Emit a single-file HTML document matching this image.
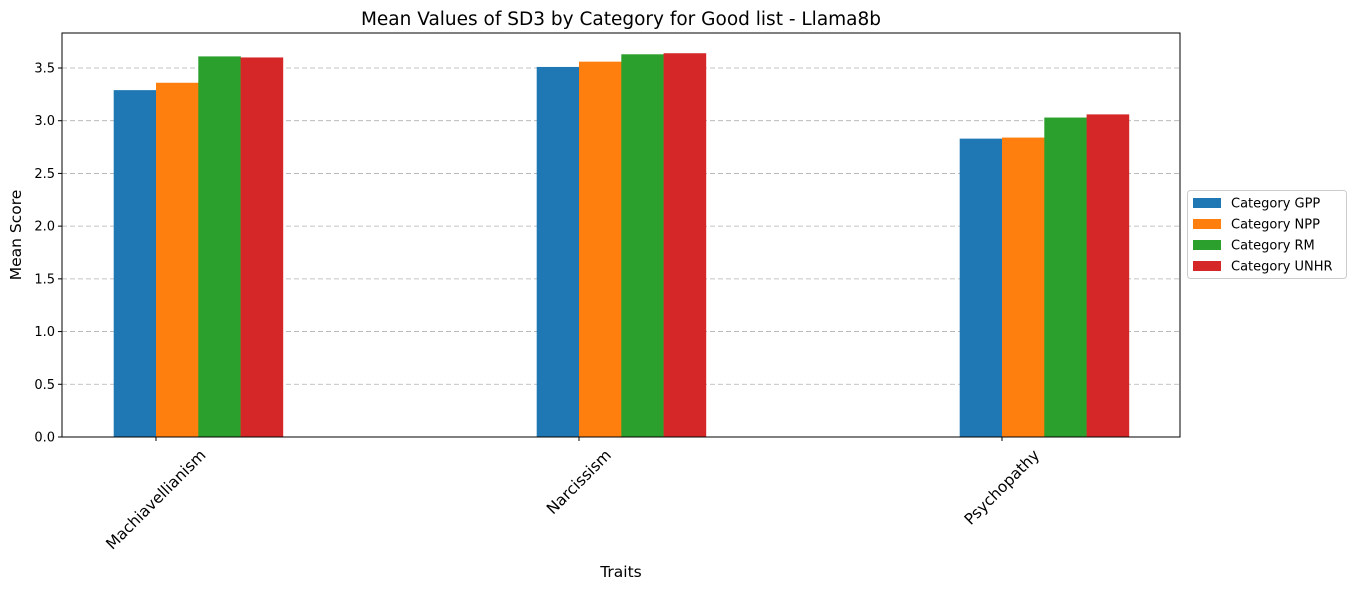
<!DOCTYPE html>
<html><head><meta charset="utf-8"><style>
body{margin:0;background:#fff}
svg text{font-family:"DejaVu Sans","Liberation Sans",sans-serif}
</style></head><body>
<svg id="chart" width="1355" height="590" xmlns="http://www.w3.org/2000/svg">
<rect width="1355" height="590" fill="#fff"/>
<text x="621" y="25" font-size="18.5" text-anchor="middle">Mean Values of SD3 by Category for Good list - Llama8b</text>
<g id="grid"></g><g id="bars"></g><g id="axes"></g>
<text x="621" y="577" font-size="15.5" text-anchor="middle">Traits</text>
<text transform="translate(21,235) rotate(-90)" font-size="15.5" text-anchor="middle">Mean Score</text>
<g>
<rect x="1187.5" y="190.5" width="159" height="88" rx="3" fill="#fff" stroke="#ccc"/>
<g id="legend"></g>
</g>
</svg>
<script>
const categories=["Machiavellianism","Narcissism","Psychopathy"];
const seriesNames=["Category GPP","Category NPP","Category RM","Category UNHR"];
const gpp=[3.29,3.51,2.83];
const npp=[3.36,3.56,2.84];
const rm=[3.61,3.63,3.03];
const unhr=[3.60,3.64,3.06];
const yTicks=[0,0.5,1.0,1.5,2.0,2.5,3.0,3.5];
const colors=["#1f77b4","#ff7f0e","#2ca02c","#d62728"];
const series=[gpp,npp,rm,unhr];
const NS="http://www.w3.org/2000/svg";
const L=62,R=1180,T=33,B=437;
const y=v=>B-v*105.43;
const x=i=>156+i*423;
const bw=42.3;
function mk(tag,attrs,parent){const e=document.createElementNS(NS,tag);for(const k in attrs)e.setAttribute(k,attrs[k]);parent.appendChild(e);return e;}
const grid=document.getElementById('grid'),bars=document.getElementById('bars'),axes=document.getElementById('axes'),leg=document.getElementById('legend');
yTicks.forEach(t=>{
 const gy=y(t);
 if(t>0){const g=mk('line',{x1:L,x2:R,y1:gy,y2:gy,stroke:'#b0b0b0','stroke-dasharray':'5,3','stroke-width':0.8},grid);
 
 }
 mk('line',{x1:L-4,x2:L,y1:gy,y2:gy,stroke:'#000'},axes);
 const tx=mk('text',{x:L-7,y:gy+4.5,'font-size':13,'text-anchor':'end'},axes);
 tx.textContent=t.toFixed(1);
 
 
});
categories.forEach((c,i)=>{
 series.forEach((s,j)=>{
  const bx=x(i)-bw+j*bw;
  const r=mk('rect',{x:bx,y:y(s[i]),width:bw+0.3,height:B-y(s[i]),fill:colors[j]},bars);
  
  
 });
 mk('line',{x1:x(i),x2:x(i),y1:B,y2:B+4,stroke:'#000'},axes);
 const tx=mk('text',{x:0,y:5,'font-size':15.5,'text-anchor':'middle'},axes);
 tx.textContent=c;
 
 
 const len=tx.getComputedTextLength();
 const cy=B+10+(len*0.7071+11)/2;
 tx.setAttribute('transform',`translate(${x(i)},${cy}) rotate(-45)`);
});
const frame=mk('rect',{x:L,y:T,width:R-L,height:B-T,fill:'none',stroke:'#000','stroke-width':1},axes);


seriesNames.forEach((n,j)=>{
 const ey=203+j*21;
 const p=mk('rect',{x:1193,y:ey-5,width:28,height:10,fill:colors[j]},leg);
 
 
 const t=mk('text',{x:1231,y:ey+4.5,'font-size':13},leg);
 t.textContent=n;
 
 
});
</script>
</body></html>
